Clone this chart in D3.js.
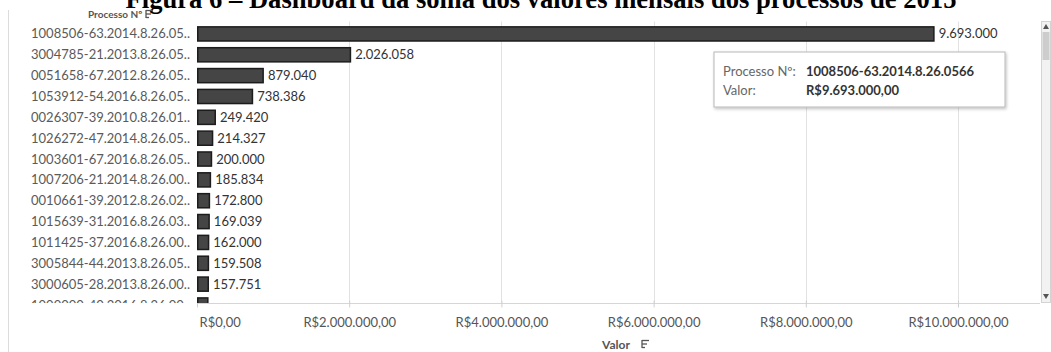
<!DOCTYPE html>
<html>
<head>
<meta charset="utf-8">
<script src="https://cdn.jsdelivr.net/npm/d3@7"></script>
<style>
  html, body { margin: 0; padding: 0; background: #fff; }
  svg { display: block; }
</style>
</head>
<body>
<svg id="chart" width="1051" height="352"></svg>
<script>
// Process numbers (as truncated on the row axis) and their summed values (R$)
const processos = [
  "1008506-63.2014.8.26.05..",
  "3004785-21.2013.8.26.05..",
  "0051658-67.2012.8.26.05..",
  "1053912-54.2016.8.26.05..",
  "0026307-39.2010.8.26.01..",
  "1026272-47.2014.8.26.05..",
  "1003601-67.2016.8.26.05..",
  "1007206-21.2014.8.26.00..",
  "0010661-39.2012.8.26.02..",
  "1015639-31.2016.8.26.03..",
  "1011425-37.2016.8.26.00..",
  "3005844-44.2013.8.26.05..",
  "3000605-28.2013.8.26.00..",
  "1000000-40.2016.8.26.00.."
];
const valores = [9693000, 2026058, 879040, 738386, 249420, 214327, 200000,
                 185834, 172800, 169039, 162000, 159508, 157751, 152000];
const xTicks = [0, 2000000, 4000000, 6000000, 8000000, 10000000];

// Hovered mark shown in the tooltip
const tooltipProcesso = "1008506-63.2014.8.26.0566";
const tooltipIndex = 0;

const caption = "Figura 6 \u2013 Dashboard da soma dos valores mensais dos processos de 2015";

const ptBR = d3.formatLocale({
  decimal: ",", thousands: ".", grouping: [3], currency: ["R$", ""]
});
const fmtMoeda = ptBR.format("$,.2f");
const fmtInt = ptBR.format(",d");

const FONT = "Lato, 'Open Sans', sans-serif";
const svg = d3.select("#chart");

const plot = { left: 197, right: 1040, top: 23.5, bottom: 303 };
const x = d3.scaleLinear().domain([0, 10000000]).range([plot.left, 958]);
const y = d3.scaleBand().domain(processos)
  .range([plot.top, plot.top + processos.length * 20.85])
  .paddingInner(0.25).paddingOuter(0.125);

// Caption, cut off at the top edge of the view
svg.append("text")
  .attr("x", 541).attr("y", 7.5)
  .attr("text-anchor", "middle")
  .attr("font-family", "'Liberation Serif', 'Times New Roman', serif")
  .attr("font-weight", "bold")
  .attr("font-size", 26.6)
  .attr("fill", "#000")
  .text(caption);

// Worksheet frame edge
svg.append("line")
  .attr("x1", 8.5).attr("x2", 8.5).attr("y1", 10).attr("y2", 352)
  .attr("stroke", "#dcdcdc");

// Sort icon used next to field titles
function sortIcon(g, cx, cy) {
  const ic = g.append("g").attr("transform", `translate(${cx},${cy})`)
    .attr("stroke", "#555").attr("stroke-width", 1.3);
  ic.append("line").attr("x1", 0).attr("x2", 0).attr("y1", -4).attr("y2", 4);
  ic.append("line").attr("x1", 0).attr("x2", 7).attr("y1", -3.5).attr("y2", -3.5);
  ic.append("line").attr("x1", 0).attr("x2", 5).attr("y1", 0).attr("y2", 0);
  ic.append("line").attr("x1", 0).attr("x2", 3).attr("y1", 3.5).attr("y2", 3.5);
}

// Row header
svg.append("text")
  .attr("x", 88).attr("y", 18)
  .attr("font-family", FONT).attr("font-weight", "bold")
  .attr("font-size", 10).attr("fill", "#555")
  .text("Processo N\u00BA");
sortIcon(svg, 146, 14);

// Clip for the scrolled pane
svg.append("defs").append("clipPath").attr("id", "pane")
  .append("rect").attr("x", 0).attr("y", plot.top - 3)
  .attr("width", plot.right).attr("height", plot.bottom - plot.top + 3);

// Gridlines
svg.append("g")
  .selectAll("line").data(xTicks.slice(1)).join("line")
  .attr("x1", d => Math.round(x(d)) + 0.5).attr("x2", d => Math.round(x(d)) + 0.5)
  .attr("y1", plot.top - 2).attr("y2", plot.bottom)
  .attr("stroke", "#e2e2e2");

// Bottom axis
const axis = svg.append("g")
  .attr("transform", `translate(0,${plot.bottom + 0.5})`)
  .call(d3.axisBottom(x).tickValues(xTicks).tickFormat(fmtMoeda).tickSize(4).tickPadding(10));
axis.select(".domain").attr("d", `M${plot.left},0H${plot.right}`).attr("stroke", "#d6d6d6");
axis.selectAll(".tick line").attr("stroke", "#cfcfcf").attr("y1", -3);
axis.selectAll(".tick text")
  .attr("font-family", FONT).attr("font-size", 13).attr("fill", "#555");
axis.selectAll(".tick").filter(d => d === 0).select("text")
  .attr("text-anchor", "start").attr("dx", 2);

// Axis title
svg.append("text")
  .attr("x", 602).attr("y", 349)
  .attr("font-family", FONT).attr("font-weight", "bold")
  .attr("font-size", 12).attr("fill", "#555")
  .text("Valor");
sortIcon(svg, 642, 344);

// Rows: labels, bars and value labels
const pane = svg.append("g").attr("clip-path", "url(#pane)");
const rows = d3.zip(processos, valores);

pane.selectAll("text.rowlabel").data(rows).join("text")
  .attr("class", "rowlabel")
  .attr("x", 190)
  .attr("y", d => y(d[0]) + y.bandwidth() / 2)
  .attr("dy", "0.35em")
  .attr("text-anchor", "end")
  .attr("font-family", FONT).attr("font-size", 13).attr("fill", "#5a5a5a")
  .text(d => d[0]);

pane.selectAll("rect.bar").data(rows).join("rect")
  .attr("class", "bar")
  .attr("x", x(0) + 0.75)
  .attr("y", d => y(d[0]) + 0.75)
  .attr("width", d => Math.max(0, x(d[1]) - x(0) - 1.5))
  .attr("height", y.bandwidth() - 1.5)
  .attr("fill", "#454545")
  .attr("stroke", "#1c1c1c").attr("stroke-width", 1.5);

// Mark labels are shown only for rows that fit entirely inside the pane
pane.selectAll("text.vlabel")
  .data(rows.filter(d => y(d[0]) + y.bandwidth() <= plot.bottom))
  .join("text")
  .attr("class", "vlabel")
  .attr("x", d => x(d[1]) + 4)
  .attr("y", d => y(d[0]) + y.bandwidth() / 2)
  .attr("dy", "0.35em")
  .attr("font-family", FONT).attr("font-size", 13).attr("fill", "#333")
  .text(d => fmtInt(d[1]));

// Vertical scrollbar of the pane
const sb = svg.append("g");
sb.append("rect").attr("x", 1041.5).attr("y", 21.5).attr("width", 9).attr("height", 281)
  .attr("fill", "#f2f2f2").attr("stroke", "#d4d4d4");
sb.append("rect").attr("x", 1042.5).attr("y", 32).attr("width", 7).attr("height", 28)
  .attr("fill", "#cdcdcd");
sb.append("path").attr("d", "M1043,29 L1046,24 L1049,29 Z").attr("fill", "#555");
sb.append("path").attr("d", "M1043,294 L1046,299 L1049,294 Z").attr("fill", "#555");

// Tooltip for the hovered bar
const defs = svg.select("defs");
const shadow = defs.append("filter").attr("id", "shadow")
  .attr("x", "-10%").attr("y", "-20%").attr("width", "120%").attr("height", "150%");
shadow.append("feDropShadow").attr("dx", 1).attr("dy", 1.5)
  .attr("stdDeviation", 1.5).attr("flood-color", "#000").attr("flood-opacity", 0.25);

const tip = svg.append("g").attr("transform", "translate(714,52)");
tip.append("rect").attr("width", 291).attr("height", 55)
  .attr("fill", "#fff").attr("stroke", "#b8b8b8").attr("filter", "url(#shadow)");
const tipRows = [
  ["Processo N\u00BA:", tooltipProcesso],
  ["Valor:", fmtMoeda(valores[tooltipIndex])]
];
tip.selectAll("g.tr").data(tipRows).join("g")
  .attr("class", "tr")
  .attr("transform", (d, i) => `translate(0,${19 + i * 19})`)
  .each(function (d) {
    const g = d3.select(this);
    g.append("text").attr("x", 9).attr("dy", "0.35em")
      .attr("font-family", FONT).attr("font-size", 13).attr("fill", "#666").text(d[0]);
    g.append("text").attr("x", 92).attr("dy", "0.35em")
      .attr("font-family", FONT).attr("font-size", 13).attr("font-weight", "bold")
      .attr("fill", "#333").text(d[1]);
  });
</script>
</body>
</html>
